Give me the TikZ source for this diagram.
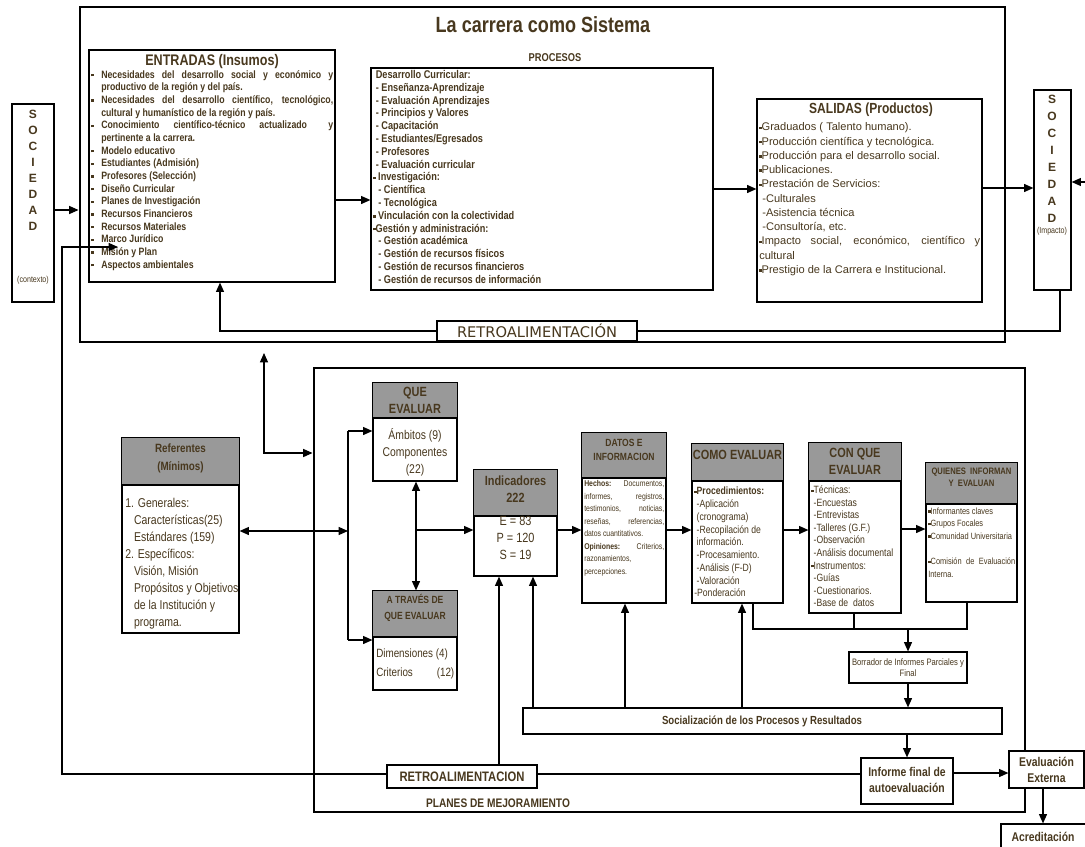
\documentclass[tikz,border=0pt]{standalone}
\usepackage{fontspec}
\setmainfont{Liberation Sans}
\newfontfamily\nar[FakeStretch=0.82]{Liberation Sans}
\newfontfamily\dvs{DejaVu Sans}
\usetikzlibrary{arrows.meta,fit}
\definecolor{tc}{RGB}{72,56,30}
\definecolor{hdr}{RGB}{153,153,153}
\newdimen\upx \upx=0.75pt
\newcommand\sq{\raisebox{0.3ex}{\rule{1.8pt}{1.8pt}}}
\newcommand\fs[2]{\fontsize{#1}{#2}\selectfont}
\newcommand\bl{\makebox[10\upx][l]{\sq}}
\newcommand\ind{\hspace*{10\upx}}
\newcommand\jl[2]{\makebox[#1\upx][s]{#2}}
\begin{document}
\begin{tikzpicture}[x=0.75pt,y=-0.75pt,
  ln/.style={line width=0.9pt},
  arr/.style={line width=0.9pt,-{Triangle[length=7pt,width=6pt]}},
  darr/.style={line width=0.9pt,{Triangle[length=7pt,width=6pt]}-{Triangle[length=7pt,width=6pt]}},
  box/.style={draw,line width=0.9pt,fill=white,inner sep=0pt},
  bigbox/.style={draw,line width=2.2pt,inner sep=0pt},
  hd/.style={draw,line width=0.9pt,fill=hdr},
  txt/.style={text=tc,inner sep=0pt,anchor=north west,align=left},
  ctxt/.style={text=tc,inner sep=0pt,align=center},
]
\useasboundingbox (0,0) rectangle (1085,846);
\fill[white] (0,0) rectangle (1085,846);

% ---------------- upper system ----------------
\node[bigbox,fit={(80,7)(1005,342)}] (outer) {};
\node[ctxt,font=\nar\bfseries\fs{16.5}{18}] (title) at (543,25) {La carrera como Sistema};

\node[box,fit={(12,104)(54,302)}] (socL) {};
\node[ctxt,font=\bfseries\fs{9}{12}] (socLt) at (33,170) {S\\O\\C\\I\\E\\D\\A\\D};
\node[ctxt,font=\nar\fs{6.5}{8}] (ctx) at (33,280) {(contexto)};

\node[box,fit={(1034,90)(1071,290)}] (socR) {};
\node[ctxt,font=\bfseries\fs{9}{12.7}] (socRt) at (1052,159) {S\\O\\C\\I\\E\\D\\A\\D};
\node[ctxt,font=\nar\fs{6.5}{8}] (imp) at (1052,231) {(Impacto)};

\node[box,fit={(89,50)(335,282)}] (entr) {};
\node[ctxt,font=\nar\bfseries\fs{11.5}{12}] (entrh) at (212,62) {ENTRADAS (Insumos)};
\node[txt,font=\nar\bfseries\fs{8}{9.5}] (entrt) at (91,69) {%
\strut\bl\jl{232}{Necesidades del desarrollo social y económico y}\\
\ind productivo de la región y del país.\\
\bl\jl{232}{Necesidades del desarrollo científico, tecnológico,}\\
\ind cultural y humanístico de la región y país.\\
\bl\jl{232}{Conocimiento científico-técnico actualizado\quad\quad y}\\
\ind pertinente a la carrera.\\
\bl Modelo educativo\\
\bl Estudiantes (Admisión)\\
\bl Profesores (Selección)\\
\bl Diseño Curricular\\
\bl Planes de Investigación\\
\bl Recursos Financieros\\
\bl Recursos Materiales\\
\bl Marco Jurídico\\
\bl Misión y Plan\\
\bl Aspectos ambientales};

\node[ctxt,font=\nar\bfseries\fs{8.5}{10}] (proch) at (555,58) {PROCESOS};
\node[box,fit={(371,68)(713,290)}] (proc) {};
\node[txt,font=\nar\bfseries\fs{8.4}{9.6}] (proct) at (373,69.3) {%
\strut\ Desarrollo Curricular:\\
\ - Enseñanza-Aprendizaje\\
\ - Evaluación Aprendizajes\\
\ - Principios y Valores\\
\ - Capacitación\\
\ - Estudiantes/Egresados\\
\ - Profesores\\
\ - Evaluación curricular\\
\sq\ Investigación:\\
\ \ - Científica\\
\ \ - Tecnológica\\
\sq\ Vinculación con la colectividad\\
\sq Gestión y administración:\\
\ \ - Gestión académica\\
\ \ - Gestión de recursos físicos\\
\ \ - Gestión de recursos financieros\\
\ \ - Gestión de recursos de información};

\node[box,fit={(757,99)(982,302)}] (sal) {};
\node[ctxt,font=\nar\bfseries\fs{11}{12}] (salh) at (871,110) {SALIDAS (Productos)};
\node[txt,font=\fs{8.3}{10.7}] (salt) at (759,120.5) {%
\strut\sq Graduados ( Talento humano).\\
\sq Producción científica y tecnológica.\\
\sq Producción para el desarrollo social.\\
\sq Publicaciones.\\
\sq Prestación de Servicios:\\
\ -Culturales\\
\ -Asistencia técnica\\
\ -Consultoría, etc.\\
\jl{221}{\sq Impacto social, económico, científico y}\\
cultural\\
\sq Prestigio de la Carrera e Institucional.};

\node[box,fit={(437,321)(637,341)}] (retroT) {};
\node[ctxt,font=\dvs\fs{11}{12}] (retroTt) at (537,331) {RETROALIMENTACIÓN};

% ---------------- lower evaluation ----------------
\node[bigbox,fit={(314,368)(1025,812)}] (planes) {};
\node[ctxt,font=\nar\bfseries\fs{9.3}{11}] (planest) at (498,803) {PLANES DE MEJORAMIENTO};

\node[box,fit={(122,438)(239,633)}] (ref) {};
\draw[hd] (ref.north west) rectangle (ref.east |- 0,485);
\node[ctxt,font=\nar\bfseries\fs{9}{13.5}] (refh) at (180.5,458) {Referentes\\(Mínimos)};
\node[txt,font=\nar\fs{9.6}{12.75}] (reft) at (125,495) {%
\strut 1. Generales:\\
\ \ \ Características(25)\\
\ \ \ Estándares (159)\\
2. Específicos:\\
\ \ \ Visión, Misión\\
\ \ \ Propósitos y Objetivos\\
\ \ \ de la Institución y\\
\ \ \ programa.};

\node[box,fit={(373,383)(457,481)}] (que) {};
\draw[hd] (que.north west) rectangle (que.east |- 0,418);
\node[ctxt,font=\nar\bfseries\fs{10}{12.75}] (queh) at (415,400.5) {QUE\\EVALUAR};
\node[ctxt,anchor=north,font=\nar\fs{9.5}{12.75}] (quet) at (415,427) {\strut Ámbitos (9)\\Componentes\\(22)};

\node[box,fit={(373,591)(457,690)}] (atr) {};
\draw[hd] (atr.north west) rectangle (atr.east |- 0,637);
\node[ctxt,font=\nar\bfseries\fs{7.8}{12}] (atrh) at (415,608) {A TRAVÉS DE\\QUE EVALUAR};
\node[txt,font=\nar\fs{9}{14.25}] (atrt) at (376,644) {%
\strut Dimensiones (4)\\\makebox[78\upx][s]{Criterios\hfill(12)}};

\node[box,fit={(474,470)(557,576)}] (indic) {};
\draw[hd] (indic.north west) rectangle (indic.east |- 0,516);
\node[ctxt,font=\nar\bfseries\fs{10}{12.75}] (indh) at (515.5,489.5) {Indicadores\\222};
\node[ctxt,anchor=north,font=\nar\fs{10}{12.75}] (indt) at (515.5,513.6) {\strut E = 83\\P = 120\\S = 19};

\node[box,fit={(582,433)(666,603)}] (datos) {};
\draw[hd] (datos.north west) rectangle (datos.east |- 0,478);
\node[ctxt,font=\nar\bfseries\fs{7.8}{10.5}] (datosh) at (624,450) {DATOS E\\INFORMACION};
\node[txt,font=\nar\fs{6.3}{9.4}] (datost) at (584,477.5) {%
\strut\jl{80}{\textbf{Hechos:} Documentos,}\\
\jl{80}{informes, registros,}\\
\jl{80}{testimonios, noticias,}\\
\jl{80}{reseñas, referencias,}\\
datos cuantitativos.\\
\jl{80}{\textbf{Opiniones:} Criterios,}\\
razonamientos,\\
percepciones.};

\node[box,fit={(692,444)(783,603)}] (como) {};
\draw[hd] (como.north west) rectangle (como.east |- 0,481);
\node[ctxt,font=\nar\bfseries\fs{10}{12.75}] (comoh) at (737.5,455) {COMO EVALUAR};
\node[txt,font=\nar\fs{7.9}{9.56}] (comot) at (694,485.7) {%
\strut\sq\textbf{Procedimientos:}\\
\ -Aplicación\\
\ (cronograma)\\
\ -Recopilación de\\
\ información.\\
\ -Procesamiento.\\
\ -Análisis (F-D)\\
\ -Valoración\\
-Ponderación};

\node[box,fit={(809,443)(901,613)}] (conque) {};
\draw[hd] (conque.north west) rectangle (conque.east |- 0,481);
\node[ctxt,font=\nar\bfseries\fs{10}{12.75}] (conqueh) at (855,461.5) {CON QUE\\EVALUAR};
\node[txt,font=\nar\fs{7.9}{9.4}] (conquet) at (811,484.8) {%
\strut\sq Técnicas:\\
\ -Encuestas\\
\ -Entrevistas\\
\ -Talleres (G.F.)\\
\ -Observación\\
\ -Análisis documental\\
\sq Instrumentos:\\
\ -Guías\\
\ -Cuestionarios.\\
\ -Base de\ \ datos};

\node[box,fit={(926,463)(1017,602)}] (quien) {};
\draw[hd] (quien.north west) rectangle (quien.east |- 0,504);
\node[ctxt,font=\nar\bfseries\fs{7}{9}] (quienh) at (971.5,477) {QUIENES\ \ INFORMAN\\Y\ \ EVALUAN};
\node[txt,font=\nar\fs{6.8}{9.45}] (quient) at (928,505) {%
\strut\sq Informantes claves\\
\sq Grupos Focales\\
\sq Comunidad Universitaria\\[9.45pt]
\jl{87}{\sq Comisión de Evaluación}\\
Interna.};

\node[box,fit={(849,652)(967,683)}] (borr) {};
\node[ctxt,font=\nar\fs{7}{8.25}] (borrt) at (908,668) {Borrador de Informes Parciales y\\Final};

\node[box,fit={(523,708)(1002,734)}] (soc) {};
\node[ctxt,font=\nar\bfseries\fs{8.8}{10}] (soct) at (762,721) {Socialización de los Procesos y Resultados};

\node[box,fit={(861,758)(953,804)}] (inf) {};
\node[ctxt,font=\nar\bfseries\fs{9.5}{12}] (inft) at (907,780) {Informe final de\\autoevaluación};

\node[box,fit={(1009,751)(1084,788)}] (ext) {};
\node[ctxt,font=\nar\bfseries\fs{9.5}{12}] (extt) at (1046.5,770) {Evaluación\\Externa};

\node[box,fit={(1001,824)(1087,852)}] (acr) {};
\node[ctxt,font=\nar\bfseries\fs{9.5}{12}] (acrt) at (1043,837) {Acreditación};

\node[box,fit={(387,765)(537,788)}] (retroB) {};
\node[ctxt,font=\nar\bfseries\fs{10.3}{12}] (retroBt) at (462,777) {RETROALIMENTACION};

% ---------------- connectors ----------------
\coordinate (mj) at (118,247);
\coordinate (up) at (264,353);
\coordinate (br1) at (348,431);
\coordinate (br2) at (348,640);
\coordinate (brm) at (348,531);
\coordinate (jx) at (416,530);

\draw[arr] (socL.east |- 0,210) -- (outer.west |- 0,210);
\draw[arr] (entr.east |- 0,200) -- (proc.west |- 0,200);
\draw[arr] (proc.east |- 0,189) -- (sal.west |- 0,189);
\draw[arr] (sal.east |- 0,188) -- (socR.west |- 0,188);
\draw[arr] (ext.east |- 0,770) -- (1100,770) -- (1100,182) -- (socR.east |- 0,182);
\draw[ln] (socR.south -| 1060,0) |- (retroT.east);
\draw[arr] (retroT.west) -| (entr.south -| 220,0);

\draw[ln] (inf.west |- 0,774) -- (retroB.east |- 0,774);
\draw[arr] (retroB.west |- 0,774) -- (62,774) -- (62,247) -- (mj);
\draw[arr] (retroB.north -| 499,0) -- (indic.south -| 499,0);

\draw[darr] (up) -- (264,453) -- (planes.west |- 0,453);
\draw[darr] (ref.east |- 0,531) -- (brm);
\draw[ln] (br1) -- (br2);
\draw[arr] (br1) -- (que.west |- br1);
\draw[arr] (br2) -- (atr.west |- br2);
\draw[darr] (que.south -| jx) -- (atr.north -| jx);
\draw[arr] (jx) -- (indic.west |- jx);
\draw[arr] (indic.east |- 0,530) -- (datos.west |- 0,530);
\draw[arr] (datos.east |- 0,530) -- (como.west |- 0,530);
\draw[arr] (como.east |- 0,530) -- (conque.west |- 0,530);
\draw[arr] (conque.east |- 0,529) -- (quien.west |- 0,529);

\draw[ln] (como.south -| 753,0) |- (967,629) -- (quien.south -| 967,0);
\draw[ln] (conque.south -| 854,0) -- (854,629);
\draw[arr] (908,629) -- (borr.north);
\draw[arr] (borr.south) -- (soc.north -| borr.south);
\draw[arr] (soc.south -| inf.north) -- (inf.north);
\draw[arr] (soc.north -| 533,0) -- (indic.south -| 533,0);
\draw[arr] (soc.north -| 625,0) -- (datos.south -| 625,0);
\draw[arr] (soc.north -| 742,0) -- (como.south -| 742,0);
\draw[arr] (inf.east |- 0,773) -- (ext.west |- 0,773);
\draw[arr] (ext.south -| 1043,0) -- (acr.north -| 1043,0);
\end{tikzpicture}
\end{document}
